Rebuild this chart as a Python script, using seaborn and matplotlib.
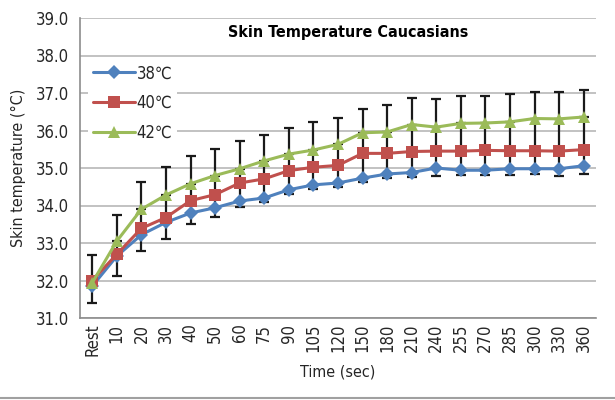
import numpy as np
import pandas as pd
import seaborn as sns
from matplotlib import pyplot as plt
from matplotlib.ticker import FixedLocator, FormatStrFormatter
from matplotlib.lines import Line2D

# time points (categorical axis)
times = ['Rest', '10', '20', '30', '40', '50', '60', '75', '90', '105', '120',
         '150', '180', '210', '240', '255', '270', '285', '300', '330', '360']

t38 = [31.85, 32.65, 33.22, 33.55, 33.80, 33.94, 34.12, 34.20, 34.42, 34.55, 34.60,
       34.73, 34.84, 34.88, 35.00, 34.94, 34.94, 34.98, 34.98, 34.98, 35.06]
t40 = [32.00, 32.70, 33.39, 33.68, 34.13, 34.29, 34.60, 34.71, 34.93, 35.02, 35.07,
       35.39, 35.39, 35.44, 35.45, 35.45, 35.47, 35.46, 35.46, 35.45, 35.49]
t42 = [31.94, 33.05, 33.90, 34.28, 34.58, 34.80, 34.98, 35.19, 35.37, 35.48, 35.63,
       35.94, 35.96, 36.16, 36.09, 36.19, 36.20, 36.23, 36.32, 36.31, 36.36]

# error bars: 38 drawn downward, 42 drawn upward
err38 = [0.46, 0.54, 0.42, 0.45, 0.30, 0.24, 0.15, 0.12, 0.12, 0.10, 0.10,
         0.10, 0.10, 0.12, 0.21, 0.12, 0.12, 0.17, 0.15, 0.19, 0.21]
err42 = [0.73, 0.69, 0.72, 0.74, 0.74, 0.71, 0.74, 0.68, 0.70, 0.74, 0.70,
         0.64, 0.71, 0.70, 0.76, 0.73, 0.72, 0.75, 0.72, 0.73, 0.72]

labels = ['38℃', '40℃', '42℃']
colors = ['#4F81BD', '#C0504D', '#9BBB59']
marker_size = {'D': 7, 's': 8.5, '^': 9}

sns.set_style('white')
plt.rcParams['font.family'] = ['DejaVu Sans']
plt.rcParams['font.stretch'] = 'condensed'

pos = np.arange(len(times))
df = pd.DataFrame({
    'pos': np.tile(pos, 3),
    'temp': t38 + t40 + t42,
    'group': np.repeat(labels, len(times)),
})

fig = plt.figure(figsize=(6.15, 4.0), dpi=100)
ax = fig.add_axes([0.130, 0.205, 0.839, 0.750])

zero = np.zeros(len(times))
ebar = dict(fmt='none', ecolor='#1a1a1a', elinewidth=1.6, capsize=3.5, capthick=1.6, zorder=1.5)
ax.errorbar(pos, t42, yerr=[zero, err42], **ebar)
ax.errorbar(pos, t38, yerr=[err38, zero], **ebar)
ax.vlines(pos, t38, t42, color='#1a1a1a', linewidth=1.6, zorder=1.4)

sns.lineplot(data=df, x='pos', y='temp', hue='group', style='group',
             palette=colors, markers={'38℃': 'D', '40℃': 's', '42℃': '^'},
             dashes=False, linewidth=2.2, markersize=8, markeredgewidth=0,
             ax=ax, zorder=3)
for ln in ax.lines:
    m = ln.get_marker()
    if m in marker_size:
        ln.set_markersize(marker_size[m])

ax.set_xlim(-0.5, len(times) - 0.5)
ax.set_ylim(31, 39)
ax.set_yticks(np.arange(31, 39.5, 1))
ax.yaxis.set_major_formatter(FormatStrFormatter('%.1f'))
ax.set_xticks(pos)
ax.set_xticklabels(times, rotation=90)
ax.xaxis.set_minor_locator(FixedLocator(np.arange(-0.5, len(times), 1)))
ax.tick_params(axis='x', which='major', length=0, pad=4, labelsize=12)
ax.tick_params(axis='x', which='minor', length=5, color='#8c8c8c', width=1)
ax.tick_params(axis='y', which='major', length=5, color='#8c8c8c', width=1, labelsize=12, pad=3)

ax.grid(axis='y', color='#b8b8b8', linewidth=1.2)
ax.set_axisbelow(True)
for side in ['top', 'right']:
    ax.spines[side].set_visible(False)
for side in ['left', 'bottom']:
    ax.spines[side].set_color('#8c8c8c')
    ax.spines[side].set_linewidth(1.2)

ax.set_xlabel('Time (sec)', fontsize=11.5, labelpad=6)
ax.set_ylabel('Skin temperature (°C)', fontsize=11.5, labelpad=7)
ax.text(0.52, 0.95, 'Skin Temperature Caucasians', transform=ax.transAxes,
        ha='center', va='center', fontsize=11.5, fontweight='bold', color='black')

leg = ax.legend(loc='upper left', bbox_to_anchor=(0.0, 0.89), frameon=True,
                facecolor='white', edgecolor='white', fontsize=12,
                handlelength=2.5, handletextpad=0.1, labelspacing=0.7,
                borderpad=0.3, framealpha=1)
leg.get_frame().set_linewidth(0)

fig.add_artist(Line2D([0, 1], [0.006, 0.006], color='#a0a0a0', linewidth=1.5))

fig.savefig('out.png', dpi=100, facecolor='white')
